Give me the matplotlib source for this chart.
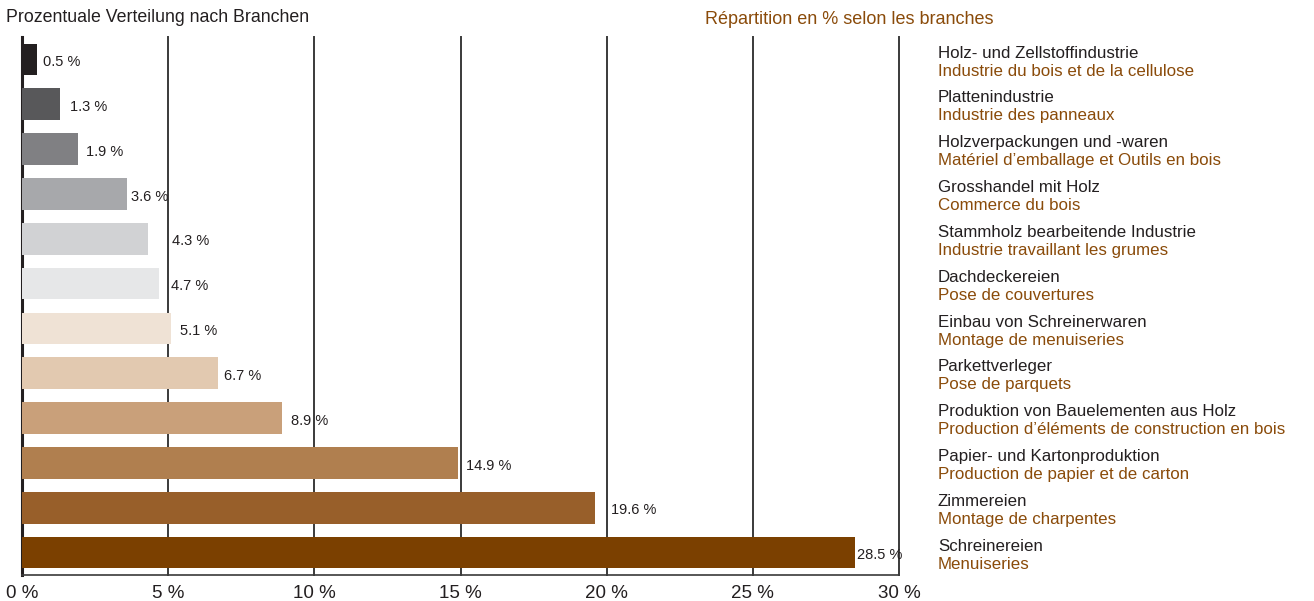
import matplotlib
matplotlib.use('Agg')
import matplotlib.pyplot as plt

# Branch shares in percent, top to bottom
branches_de = ['Holz- und Zellstoffindustrie', 'Plattenindustrie', 'Holzverpackungen und -waren',
               'Grosshandel mit Holz', 'Stammholz bearbeitende Industrie', 'Dachdeckereien',
               'Einbau von Schreinerwaren', 'Parkettverleger', 'Produktion von Bauelementen aus Holz',
               'Papier- und Kartonproduktion', 'Zimmereien', 'Schreinereien']
branches_fr = ['Industrie du bois et de la cellulose', 'Industrie des panneaux',
               'Matériel d\u2019emballage et Outils en bois', 'Commerce du bois',
               'Industrie travaillant les grumes', 'Pose de couvertures', 'Montage de menuiseries',
               'Pose de parquets', 'Production d\u2019éléments de construction en bois',
               'Production de papier et de carton', 'Montage de charpentes', 'Menuiseries']
shares = [0.5, 1.3, 1.9, 3.6, 4.3, 4.7, 5.1, 6.7, 8.9, 14.9, 19.6, 28.5]
ticks = [0, 5, 10, 15, 20, 25, 30]

bar_colors = ['#231f20', '#58585a', '#808083', '#a7a8ab', '#d1d2d4', '#e6e7e8',
              '#efe2d5', '#e2c9b0', '#c9a07a', '#b07f4f', '#985f2a', '#7b4000']
label_pad = [6, 10, 8, 4, 24, 12, 9, 6, 9, 8, 16, 2]  # pixels right of bar end

plt.rcParams['font.family'] = ['Liberation Sans', 'DejaVu Sans']

brown = '#8a4b0a'
dark = '#231f20'

fig = plt.figure(figsize=(13.14, 6.01), dpi=100)
ax = fig.add_axes([22 / 1314, 1 - 575 / 601, 877 / 1314, 538 / 601])

y = list(range(len(shares)))
ax.barh(y, shares, height=0.71, color=bar_colors, zorder=3)
ax.set_xlim(0, 30)
ax.set_ylim(len(shares) - 0.5, -0.5)

for x in ticks[1:]:
    ax.axvline(x, color='#3a3a3a', lw=1.4, zorder=1, clip_on=False)

for spine in ['top', 'right']:
    ax.spines[spine].set_visible(False)
ax.spines['left'].set_linewidth(2.2)
ax.spines['left'].set_color(dark)
ax.spines['bottom'].set_linewidth(1.2)
ax.spines['bottom'].set_color('#3a3a3a')

ax.set_yticks([])
ax.set_xticks(ticks)
ax.set_xticklabels([f'{t} %' for t in ticks], fontsize=13.5, color=dark)
ax.tick_params(axis='x', length=0, pad=7)

px = 30 / 877  # data units per pixel
for i, v in enumerate(shares):
    ax.text(v + label_pad[i] * px, i + 0.06, f'{v} %', va='center', ha='left',
            fontsize=10.5, color=dark, zorder=4)
    ax.text(31.33, i - 0.14, branches_de[i], va='center', ha='left', fontsize=12.2,
            color=dark, clip_on=False)
    ax.text(31.33, i + 0.26, branches_fr[i], va='center', ha='left', fontsize=12.2,
            color=brown, clip_on=False)

fig.text(6 / 1314, 1 - 18 / 601, 'Prozentuale Verteilung nach Branchen', fontsize=12.8,
         color=dark, va='center', ha='left')
fig.text(705 / 1314, 1 - 20 / 601, 'Répartition en % selon les branches', fontsize=13,
         color=brown, va='center', ha='left')

fig.savefig('out.png', dpi=100)
